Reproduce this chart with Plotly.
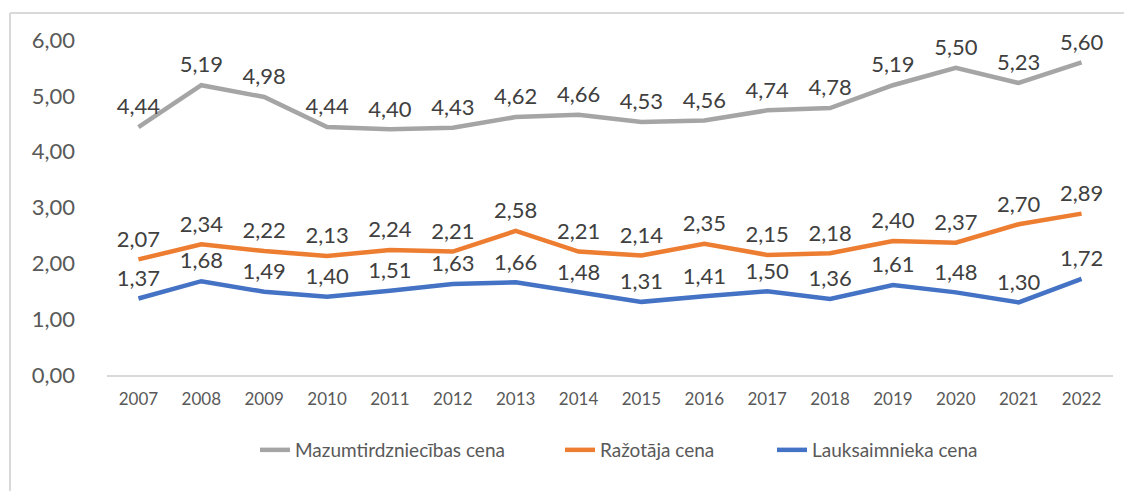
import plotly.graph_objects as go

years = [str(y) for y in range(2007, 2023)]
retail = [4.44, 5.19, 4.98, 4.44, 4.40, 4.43, 4.62, 4.66, 4.53, 4.56, 4.74, 4.78, 5.19, 5.50, 5.23, 5.60]
producer = [2.07, 2.34, 2.22, 2.13, 2.24, 2.21, 2.58, 2.21, 2.14, 2.35, 2.15, 2.18, 2.40, 2.37, 2.70, 2.89]
farmer = [1.37, 1.68, 1.49, 1.40, 1.51, 1.63, 1.66, 1.48, 1.31, 1.41, 1.50, 1.36, 1.61, 1.48, 1.30, 1.72]

series = [
    ("Mazumtirdzniecības cena", retail, "#a5a5a5", "legend", 255),
    ("Ražotāja cena", producer, "#ed7d31", "legend2", 560),
    ("Lauksaimnieka cena", farmer, "#4472c4", "legend3", 772),
]

FONT = "Lato, Open Sans, sans-serif"
# page body has an 8px offset; compensate in margins so plot area sits at x 107..1113, y 40..375
OFF = 8
W, H = 1132, 491
PL, PR, PT, PB = 107, 1113, 40, 375
L, T = PL - OFF, PT - OFF
R = W + OFF - PR
B = H + OFF - PB
pw, ph = PR - PL, PB - PT

fig = go.Figure()
legends = {}
for name, vals, col, lg, lx in series:
    fig.add_trace(go.Scatter(
        x=years, y=vals, name=name, mode="lines+markers+text", legend=lg,
        line=dict(color=col, width=4.5),
        marker=dict(size=10, color="rgba(0,0,0,0)", line=dict(width=0)),
        texttemplate="%{y:.2f}", textposition="top center",
        textfont=dict(size=22, color="#404040", family=FONT),
        cliponaxis=False,
    ))
    legends[lg] = dict(orientation="h", x=(lx - PL) / pw, xanchor="left",
                       y=(PB - 450) / ph, yanchor="middle",
                       font=dict(size=19, color="#595959", family=FONT),
                       bgcolor="rgba(0,0,0,0)")

def sx(px):
    return (px - PL) / pw

def sy(py):
    return (PB - py) / ph

fig.add_shape(type="line", xref="paper", yref="paper", x0=sx(10), x1=sx(10), y0=sy(520), y1=sy(13),
              line=dict(color="#d9d9d9", width=2))
fig.add_shape(type="line", xref="paper", yref="paper", x0=sx(10), x1=sx(1150),
              y0=sy(13), y1=sy(13), line=dict(color="#d9d9d9", width=2))

fig.update_layout(
    width=W, height=H,
    margin=dict(l=L, r=R, t=T, b=B, autoexpand=False),
    paper_bgcolor="white", plot_bgcolor="white",
    separators=", ",
    font=dict(family=FONT, color="#595959"),
    showlegend=True,
    **legends,
    xaxis=dict(type="category", range=[-0.5, 15.5], showgrid=False, showline=True,
               linecolor="#d9d9d9", linewidth=1.5, ticks="", automargin=False,
               ticklabelstandoff=8,
               tickfont=dict(size=17, color="#595959"), zeroline=False),
    yaxis=dict(range=[0, 6], tickvals=[0, 1, 2, 3, 4, 5, 6], tickformat=".2f", showgrid=False,
               showline=False, zeroline=False, ticks="", ticklabelstandoff=31, automargin=False,
               tickfont=dict(size=22, color="#595959")),
)
fig.write_html("out.html")
